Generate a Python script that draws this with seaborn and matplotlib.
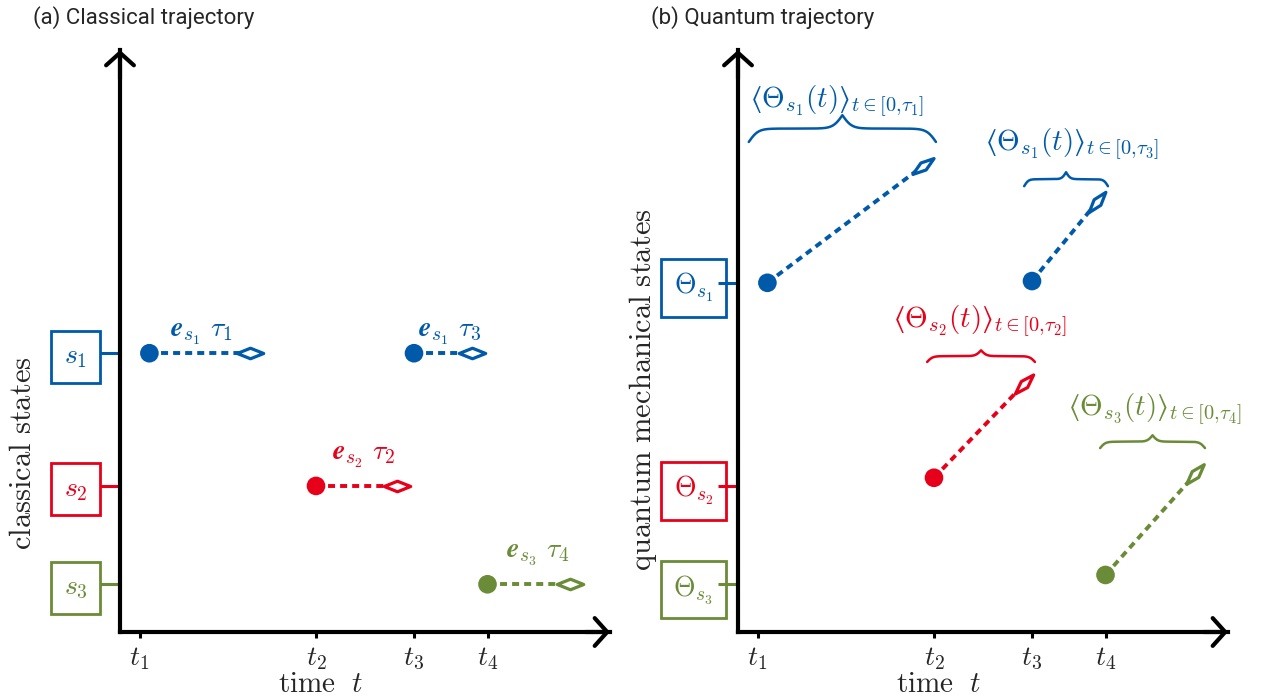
import numpy as np
import pandas as pd
import seaborn as sns
import matplotlib
matplotlib.use('Agg')
import matplotlib.pyplot as plt
from matplotlib.markers import MarkerStyle
from matplotlib.path import Path
from matplotlib.transforms import Affine2D

# time axis
times = [0.4, 4.0, 6.0, 7.5]
time_labels = [r"$t_1$", r"$t_2$", r"$t_3$", r"$t_4$"]

# states
states = ["s1", "s2", "s3"]
state_colors = ["#005AA9", "#E6001A", "#6A8B37"]
classical_levels = [4.79, 2.51, 0.82]
quantum_levels = [6.0, 2.51, 0.82]
classical_labels = [r"$s_1$", r"$s_2$", r"$s_3$"]
quantum_labels = [r"$\Theta_{s_1}$", r"$\Theta_{s_2}$", r"$\Theta_{s_3}$"]

# events, in time order
event_state = ["s1", "s2", "s1", "s3"]
event_tau = ["1", "2", "3", "4"]
event_start = [0.6, 4.0, 6.0, 7.5]
classical_end = [2.65, 5.65, 7.18, 9.18]
quantum_start_y = [6.0, 2.65, 6.03, 0.98]
quantum_end_x = [3.78, 5.84, 7.33, 9.33]
quantum_end_y = [8.01, 4.26, 7.39, 2.71]

# annotation anchors
classical_text_x = [1.67, 4.98, 6.73, 8.53]
classical_text_y = [5.07, 2.96, 5.07, 1.29]
brace_x0 = [0.22, 3.86, 5.84, 7.39]
brace_x1 = [4.04, 6.06, 7.55, 9.53]
brace_y = [8.42, 4.64, 7.66, 3.16]
brace_h = [0.23, 0.10, 0.12, 0.11]
brace_text_x = [2.02, 4.94, 6.82, 8.51]
brace_text_y = [9.02, 5.24, 8.28, 3.73]

palette = dict(zip(states, state_colors))

sns.set_theme(style="white")
plt.rcParams["mathtext.fontset"] = "cm"
plt.rcParams["font.family"] = ["Roboto", "DejaVu Sans"]

DASH = (0, (1.8, 1.3))
DIAMOND = Path([(-1, 0), (0, 0.4), (1, 0), (0, -0.4), (-1, 0)],
               [Path.MOVETO, Path.LINETO, Path.LINETO, Path.LINETO, Path.CLOSEPOLY])


def setup_axes(ax, levels, labels, ylabel, ylabel_xy):
    ax.set_xlim(0, 10)
    ax.set_ylim(0, 10)
    for side in ["top", "right"]:
        ax.spines[side].set_visible(False)
    for side in ["left", "bottom"]:
        ax.spines[side].set_linewidth(3)
        ax.spines[side].set_color("black")
        ax.spines[side].set_capstyle("projecting")

    ax.set_xticks(times, time_labels)
    ax.tick_params(axis="x", length=4.5, width=2.2, pad=5, labelsize=20, color="black", bottom=True)
    ax.set_yticks(levels, labels, ha="center")
    ax.tick_params(axis="y", length=14.5, width=2.2, pad=17.5, labelsize=20, left=True)
    for tick, c in zip(ax.yaxis.get_major_ticks(), state_colors):
        tick.tick1line.set_color(c)
        tick.tick1line.set_markeredgecolor(c)
        tick.label1.set_color(c)
        tick.label1.set_bbox(dict(boxstyle="square,pad=0.45", fc="none", ec=c, lw=2))

    ax.set_xlabel(r"$\mathrm{time}\ \ t$", fontsize=21, va="top")
    ax.xaxis.set_label_coords(0.41, -0.066)
    ax.set_ylabel(ylabel, fontsize=22, va="center")
    ax.yaxis.set_label_coords(*ylabel_xy)

    arrow = dict(arrowstyle="->,head_length=0.45,head_width=0.5", lw=3, color="black",
                 shrinkA=0, shrinkB=0, mutation_scale=20)
    ax.annotate("", xy=(0, 1.0), xytext=(0, 0.95), xycoords="axes fraction", arrowprops=arrow)
    ax.annotate("", xy=(1.0, 0), xytext=(0.95, 0), xycoords="axes fraction", arrowprops=arrow)


def draw_segments(ax, x0, y0, x1, y1, diamond_w):
    seg = pd.DataFrame({
        "seg": list(range(len(x0))) * 2,
        "state": event_state * 2,
        "t": list(x0) + list(x1),
        "y": list(y0) + list(y1),
    })
    sns.lineplot(data=seg, x="t", y="y", hue="state", units="seg", estimator=None, sort=False,
                 palette=palette, linestyle=DASH, lw=2.8, legend=False, ax=ax, zorder=2)
    starts = seg.iloc[:len(x0)]
    sns.scatterplot(data=starts, x="t", y="y", hue="state", palette=palette, s=180,
                    linewidth=0, legend=False, ax=ax, zorder=3, clip_on=False)
    for xa, ya, xb, yb, st in zip(x0, y0, x1, y1, event_state):
        pa = ax.transData.transform((xa, ya))
        pb = ax.transData.transform((xb, yb))
        angle = np.degrees(np.arctan2(pb[1] - pa[1], pb[0] - pa[0]))
        verts = DIAMOND.vertices.copy()
        verts[:, 1] *= diamond_w / 0.4
        mk = MarkerStyle(Path(verts, DIAMOND.codes), transform=Affine2D().rotate_deg(angle),
                         joinstyle="miter")
        ax.plot(xb, yb, marker=mk, ms=19, mfc="white", mec=palette[st], mew=2.3,
                zorder=4, clip_on=False)


def brace_curve(x0, x1, y, h):
    beta = 40.0 / (x1 - x0)
    xm = (x0 + x1) / 2
    xh = np.linspace(x0, xm, 200)
    f = 1 / (1 + np.exp(-beta * (xh - x0))) + 1 / (1 + np.exp(-beta * (xh - xm)))
    yh = y + (f - 0.5) * 2 * h
    xs = np.concatenate([xh, (2 * xm - xh)[::-1][1:]])
    ys = np.concatenate([yh, yh[::-1][1:]])
    return xs, ys


fig = plt.figure(figsize=(12.64, 7), dpi=100)
ax_a = fig.add_axes([120 / 1264, 68 / 700, 490 / 1264, 582 / 700])
ax_b = fig.add_axes([738 / 1264, 68 / 700, 490 / 1264, 582 / 700])

# (a) classical trajectory
setup_axes(ax_a, classical_levels, classical_labels,
           r"$\mathrm{classical\ states}$", (-0.198, 0.307))
level_of = dict(zip(states, classical_levels))
ya = [level_of[s] for s in event_state]
draw_segments(ax_a, event_start, ya, classical_end, ya, 0.4)
for x, y, st, tau in zip(classical_text_x, classical_text_y, event_state, event_tau):
    ax_a.text(x, y, rf"$\boldsymbol{{e}}_{{s_{st[1]}}}\ \tau_{tau}$", color=palette[st],
              fontsize=20, ha="center", va="baseline")

# (b) quantum trajectory
setup_axes(ax_b, quantum_levels, quantum_labels,
           r"$\mathrm{quantum\ mechanical\ states}$", (-0.194, 0.416))
draw_segments(ax_b, event_start, quantum_start_y, quantum_end_x, quantum_end_y, 0.33)
for i, st in enumerate(event_state):
    bx, by = brace_curve(brace_x0[i], brace_x1[i], brace_y[i], brace_h[i])
    ax_b.plot(bx, by, color=palette[st], lw=1.8, clip_on=False)
    ax_b.text(brace_text_x[i], brace_text_y[i],
              rf"$⟨\Theta_{{s_{st[1]}}}(t)⟩_{{t{{\in}}[0{{,}}\tau_{event_tau[i]}]}}$",
              color=palette[st], fontsize=21, ha="center", va="baseline")

fig.text(33 / 1264, 1 - 18 / 700, "(a) Classical trajectory", fontsize=16, va="center", ha="left")
fig.text(651 / 1264, 1 - 18 / 700, "(b) Quantum trajectory", fontsize=16, va="center", ha="left")

fig.savefig("out.png", dpi=100)
